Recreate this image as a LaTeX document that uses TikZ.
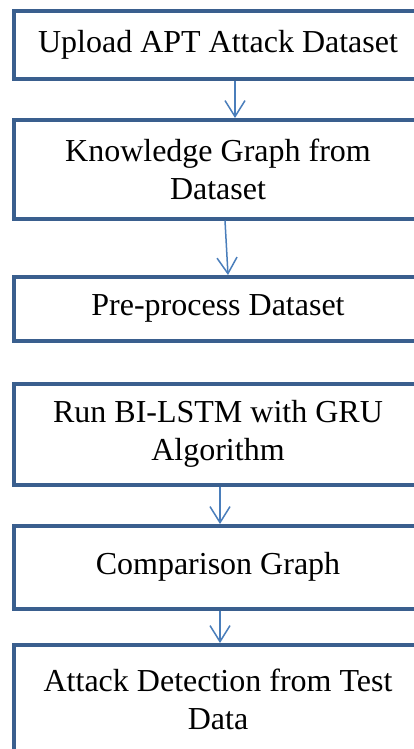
\documentclass[tikz,border=0pt]{standalone}
\usepackage{fontspec}
\setmainfont{Liberation Serif}
\usetikzlibrary{arrows.meta}
\definecolor{boxblue}{HTML}{3A5F8E}
\definecolor{arrblue}{HTML}{4A7EBB}
\begin{document}
\begin{tikzpicture}[x=1pt,y=-1pt,
  stepbox/.style={draw=boxblue, line width=4pt, fill=white, minimum width=408pt,
    inner sep=0pt, align=center, font=\fontsize{32}{38}\selectfont},
  flow/.style={draw=arrblue, line width=1.5pt,
    -{Straight Barb[length=16pt,width=20pt,line width=1.5pt]}}]
\useasboundingbox (0,0) rectangle (414,749);
\clip (0,0) rectangle (414,749);
\fill[white] (0,0) rectangle (414,749);
\node[stepbox, minimum height=68pt] (b1) at (218,45) {Upload APT Attack Dataset};
\node[stepbox, minimum height=98.5pt] (b2) at (218,169.25) {Knowledge Graph from\\Dataset};
\node[stepbox, minimum height=63.5pt] (b3) at (218,308.75) {Pre-process Dataset};
\node[stepbox, minimum height=100.5pt] (b4) at (218,434.25) {Run BI-LSTM with GRU\\Algorithm};
\node[stepbox, minimum height=82.5pt] (b5) at (218,567.25) {Comparison Graph};
\node[stepbox, minimum height=108pt] (b6) at (218,699) {Attack Detection from Test\\Data};
\draw[flow] ([xshift=17pt]b1.south) -- ([xshift=17pt]b2.north);
\draw[flow] ([xshift=7pt]b2.south) -- ([xshift=10pt]b3.north);
\draw[flow] ([xshift=2pt]b4.south) -- ([xshift=2pt]b5.north);
\draw[flow] ([xshift=2pt]b5.south) -- ([xshift=2pt]b6.north);
\end{tikzpicture}
\end{document}
